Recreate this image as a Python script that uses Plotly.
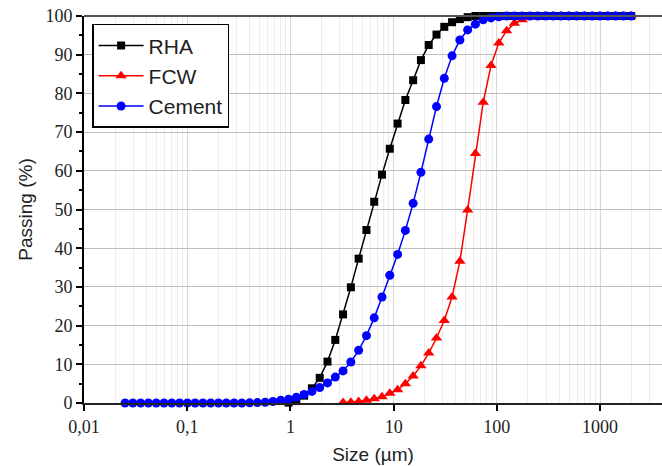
import plotly.graph_objects as go

# Particle size grid (µm), shared by all three series
size_um = [0.0250, 0.02974, 0.03538, 0.04210, 0.05008, 0.05958, 0.07088, 0.08433,
           0.1003, 0.1193, 0.1420, 0.1689, 0.2009, 0.2390, 0.2844, 0.3383,
           0.4025, 0.4789, 0.5697, 0.6778, 0.8064, 0.9594, 1.141, 1.358,
           1.615, 1.922, 2.287, 2.720, 3.236, 3.850, 4.581, 5.450,
           6.484, 7.714, 9.177, 10.92, 12.99, 15.45, 18.38, 21.87,
           26.02, 30.95, 36.82, 43.81, 52.12, 62.00, 73.77, 87.76,
           104.4, 124.2, 147.8, 175.8, 209.2, 248.8, 296.0, 352.2,
           419.0, 498.5, 593.1, 705.6, 839.4, 998.2, 1187.6, 1413.0,
           1681.0, 2000.0]

# RHA: starts at size index 21
rha_size = size_um[21:]
rha_pass = [0.1, 0.5, 1.9, 3.8, 6.5, 10.7, 16.3, 22.9, 29.9, 37.3, 44.7,
            52.0, 59.0, 65.7, 72.2, 78.3, 83.4, 88.6, 92.5, 95.2, 97.2,
            98.4, 99.2, 99.7, 100, 100, 100, 100, 100, 100, 100, 100, 100,
            100, 100, 100, 100, 100, 100, 100, 100, 100, 100, 100, 100]

# FCW: starts at size index 28
fcw_size = size_um[28:]
fcw_pass = [0.1, 0.2, 0.4, 0.7, 1.1, 1.6, 2.5, 3.4, 5.0, 7.0, 9.6, 12.9,
            16.8, 21.3, 27.4, 36.6, 49.9, 64.5, 77.7, 87.2, 93.0, 96.2,
            98.1, 99.0, 99.6, 99.9, 100, 100, 100, 100, 100, 100, 100,
            100, 100, 100, 100, 100]

# Cement: full grid
cem_size = size_um
cem_pass = [0, 0, 0, 0, 0, 0, 0, 0, 0, 0, 0, 0, 0, 0, 0, 0,
            0.05, 0.1, 0.2, 0.4, 0.7, 1.0, 1.5, 2.2, 3.0, 4.0, 5.2, 6.7,
            8.3, 10.6, 13.6, 17.4, 22.0, 27.4, 33.0, 38.4, 44.6, 51.6,
            59.6, 68.2, 76.6, 83.9, 89.7, 93.8, 96.4, 97.9, 99.0, 99.5,
            99.8, 100, 100, 100, 100, 100, 100, 100, 100, 100, 100, 100,
            100, 100, 100, 100, 100, 100]

x_tickvals = [0.01, 0.1, 1, 10, 100, 1000]
x_ticktext = ["0,01", "0,1", "1", "10", "100", "1000"]
y_tickvals = [0, 10, 20, 30, 40, 50, 60, 70, 80, 90, 100]

fig = go.Figure()
fig.add_trace(go.Scatter(x=rha_size, y=rha_pass, name="RHA", mode="lines+markers",
                         line=dict(color="black", width=1.5),
                         marker=dict(symbol="square", size=8, color="black"),
                         cliponaxis=False))
fig.add_trace(go.Scatter(x=fcw_size, y=fcw_pass, name="FCW", mode="lines+markers",
                         line=dict(color="#ff0000", width=1.5),
                         marker=dict(symbol="triangle-up", size=10, color="#ff0000"),
                         cliponaxis=False))
fig.add_trace(go.Scatter(x=cem_size, y=cem_pass, name="Cement", mode="lines+markers",
                         line=dict(color="#0000ff", width=1.5),
                         marker=dict(symbol="circle", size=9, color="#0000ff"),
                         cliponaxis=False))

fig.update_layout(
    width=662, height=466,
    margin=dict(l=84, r=0, t=16, b=63),
    paper_bgcolor="white", plot_bgcolor="white",
    font=dict(family="Liberation Sans, Arial, sans-serif", color="#222"),
    showlegend=True,
    legend=dict(x=0.014, y=0.98, xanchor="left", yanchor="top",
                bgcolor="white", bordercolor="black", borderwidth=1.5,
                font=dict(size=21, family="Liberation Sans, Arial, sans-serif", color="#222"),
                tracegroupgap=0, itemwidth=45,
                entrywidth=120, entrywidthmode="pixels"),
    shapes=[dict(type="line", xref="paper", yref="paper", x0=0, x1=1, y0=1, y1=1,
                 line=dict(color="#555", width=2))],
)

fig.update_xaxes(
    type="log", range=[-2, 3.6],
    tickvals=x_tickvals, ticktext=x_ticktext,
    ticks="outside", ticklen=6, tickwidth=1.5, tickcolor="black",
    showline=True, linecolor="#222", linewidth=2,
    showgrid=True, gridcolor="#d8d8d8", gridwidth=1,
    minor=dict(dtick="D1", showgrid=True, gridcolor="#ececec", gridwidth=1, ticks=""),
    tickfont=dict(family="Liberation Serif, Times New Roman, serif", size=18, color="#222"),
    title=dict(text="Size (µm)", font=dict(size=19, color="#222"), standoff=12),
    zeroline=False,
)
fig.update_yaxes(
    range=[0, 100], tickvals=y_tickvals,
    ticks="outside", ticklen=6, tickwidth=1.5, tickcolor="black",
    showline=True, linecolor="black", linewidth=2,
    showgrid=True, gridcolor="#bdbdbd", gridwidth=1,
    minor=dict(dtick=5, ticks="outside", ticklen=3, tickcolor="black", showgrid=False),
    tickfont=dict(family="Liberation Serif, Times New Roman, serif", size=18, color="#222"),
    title=dict(text="Passing (%)", font=dict(size=19, color="#222"), standoff=8),
    zeroline=False,
)

fig.write_html("out.html")
